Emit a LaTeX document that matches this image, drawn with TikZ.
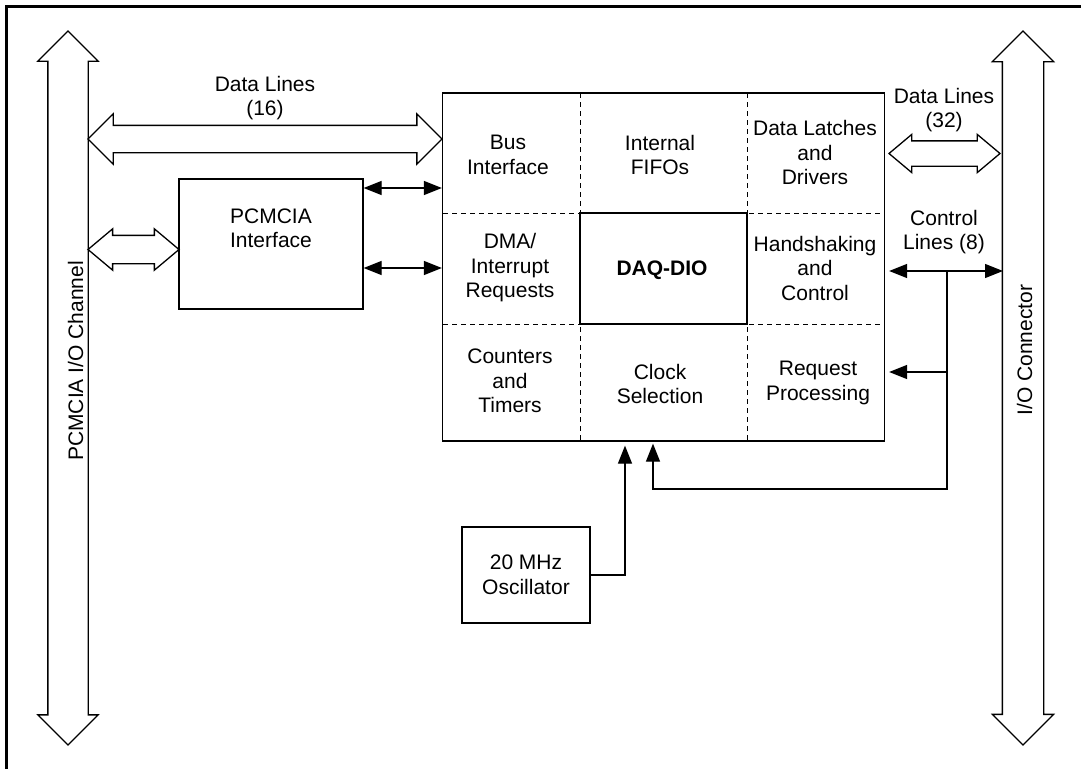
\documentclass[tikz,border=0pt]{standalone}
\usepackage{fontspec}
\setmainfont{Liberation Sans}
\usepackage{tikz}
\usetikzlibrary{positioning,shapes.arrows,arrows.meta}

\begin{document}
\begin{tikzpicture}
[
x=1pt, y=-1pt,
font=\fontsize{21}{24.5}\selectfont,
box-a/.style={draw, line width=1.3pt, inner sep=0pt},
text-a/.style={align=center, inner sep=0pt},
fat-a/.style={double arrow, draw, line width=1.3pt, inner xsep=0pt, double arrow tip angle=90},
grid-a/.style={line width=1pt, dash pattern=on 5pt off 4pt},
link-a/.style={line width=1.3pt, {Triangle[length=18pt,width=14pt]}-{Triangle[length=18pt,width=14pt]}},
link-b/.style={line width=1.3pt, -{Triangle[length=18pt,width=14pt]}}
]
\useasboundingbox (0,0) rectangle (1081,768);
\draw [line width=3pt] (6.5,800) -- (6.5,6.5) -- (1100,6.5);

% side buses
\node (pc-bus)    [fat-a, rotate=90, inner ysep=19.5pt, minimum height=714, minimum width=59, double arrow head extend=10] at (68,388) { };
\node (pc-bus-lb) [text-a, rotate=90, anchor=base] at (83,361) {PCMCIA I/O Channel};
\node (io-con)    [fat-a, rotate=90, inner ysep=20pt, minimum height=714, minimum width=60, double arrow head extend=10] at (1023,388) { };
\node (io-con-lb) [text-a, rotate=90, anchor=base] at (1032,350) {I/O Connector};

% main chip
\node (daq) [box-a, minimum width=442, minimum height=348] at (663.5,267) { };
\draw [grid-a] (443,213) -- (885,213);
\draw [grid-a] (443,324) -- (885,324);
\draw [grid-a] (580,93) -- (580,441);
\draw [grid-a] (747,93) -- (747,441);
\draw [line width=1.3pt] (580,213) rectangle (747,324);

\node (c-bus)  [text-a] at (508,155)   {Bus\\Interface};
\node (c-fifo) [text-a] at (660,155)   {Internal\\FIFOs};
\node (c-latch)[text-a] at (815,152.5) {Data Latches\\and\\Drivers};
\node (c-dma)  [text-a] at (510,268)   {DMA/\\Interrupt\\Requests};
\node (c-dio)  [text-a] at (662,270)   {\textbf{DAQ-DIO}};
\node (c-hand) [text-a] at (815,268)   {Handshaking\\and\\Control};
\node (c-cnt)  [text-a] at (510,381)   {Counters\\and\\Timers};
\node (c-clk)  [text-a] at (660,384)   {Clock\\Selection};
\node (c-req)  [text-a] at (818,383)   {Request\\Processing};

% PCMCIA interface
\node (pc-if)    [box-a, minimum width=184, minimum height=130] at (271,244) { };
\node (pc-if-lb) [text-a, below = 30pt of pc-if.north] {PCMCIA\\Interface};
\node (pc-dl)    [fat-a, double arrow tip angle=80, inner ysep=13.5pt, minimum height=91, minimum width=40, double arrow head extend=6.5] at (133.5,249.5) { };
\draw [link-a] ([yshift=56pt]pc-if.east) -- ([yshift=56pt]pc-if.east -| daq.west);
\draw [link-a] ([yshift=-24pt]pc-if.east) -- ([yshift=-24pt]pc-if.east -| daq.west);

% data lines
\node (bus-dl)    [fat-a, inner ysep=13pt, minimum height=354, minimum width=49, double arrow head extend=11.5] at (265,139) { };
\node (bus-dl-lb) [text-a] at (265,98) {Data Lines\\(16)};
\node (io-dl)     [fat-a, double arrow tip angle=80, inner ysep=12pt, minimum height=111, minimum width=37, double arrow head extend=6.5] at (944.5,153.5) { };
\node (io-dl-lb)  [text-a] at (944,110) {Data Lines\\(32)};

% control lines
\node (ctl-lb) [text-a] at (944,232) {Control\\Lines (8)};
\coordinate (io-in) at (1003,271);
\coordinate (ctl-j) at (947,271);
\coordinate (ctl-r) at (947,372);
\coordinate (ctl-c) at (947,489);
\draw [link-a, shorten <=4pt] (daq.east |- io-in) -- (io-in);
\draw [link-b, shorten >=4pt] (ctl-r) -- (ctl-r -| daq.east);
\draw [link-b, shorten >=2pt] (ctl-j) -- (ctl-c) -| ([xshift=-10.5pt]daq.south);

% clock
\node (osc) [box-a, text-a, minimum width=128, minimum height=96] at (526,575) {20 MHz\\Oscillator};
\draw [link-b, shorten >=4pt] (osc.east) -| ([xshift=-38.5pt]daq.south);
\end{tikzpicture}
\end{document}
